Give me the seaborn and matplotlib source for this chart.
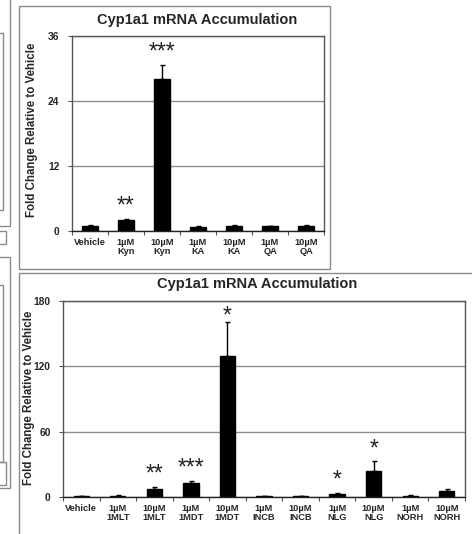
import seaborn as sns
import matplotlib.pyplot as plt
from matplotlib.patches import Rectangle

# --------------------------
# Data
# --------------------------
# top panel: kynurenine and metabolites
kyn_labels = ["Vehicle", "1µM\nKyn", "10µM\nKyn", "1µM\nKA", "10µM\nKA", "1µM\nQA", "10µM\nQA"]
kyn_fold = [0.95, 2.1, 28.1, 0.75, 0.95, 0.85, 0.85]
kyn_err = [0.15, 0.15, 2.6, 0.1, 0.2, 0.1, 0.2]
kyn_stars = ["", "**", "***", "", "", "", ""]
kyn_ticks = [0, 12, 24, 36]

# bottom panel: other AHR ligands
lig_labels = ["Vehicle", "1µM\n1MLT", "10µM\n1MLT", "1µM\n1MDT", "10µM\n1MDT", "1µM\nINCB",
              "10µM\nINCB", "1µM\nNLG", "10µM\nNLG", "1µM\nNORH", "10µM\nNORH"]
lig_fold = [1.0, 1.2, 7.5, 13.3, 129.8, 1.0, 1.0, 2.8, 24.2, 1.0, 5.5]
lig_err = [0.3, 0.3, 1.5, 1.2, 31.0, 0.3, 0.3, 0.8, 8.6, 0.4, 2.2]
lig_stars = ["", "", "**", "***", "*", "", "", "*", "*", "", ""]
lig_ticks = [0, 60, 120, 180]

title = "Cyp1a1 mRNA Accumulation"
ylabel = "Fold Change Relative to Vehicle"

# --------------------------
# Style
# --------------------------
sns.set_style("white")
plt.rcParams["font.family"] = ["Liberation Sans", "DejaVu Sans"]
plt.rcParams["font.weight"] = "bold"

W, H = 472, 534
fig = plt.figure(figsize=(W / 100, H / 100), dpi=100)


def box(x0, y0, x1, y1, color="#8a8a8a", lw=1.0):
    # rectangle given in pixel coords (origin top-left)
    fig.add_artist(Rectangle((x0 / W, 1 - y1 / H), (x1 - x0) / W, (y1 - y0) / H,
                             transform=fig.transFigure, fill=False,
                             edgecolor=color, lw=lw, clip_on=False))


def panel(rect_px, labels, fold, err, stars, ticks):
    x0, y0, x1, y1 = rect_px
    ax = fig.add_axes([x0 / W, 1 - y1 / H, (x1 - x0) / W, (y1 - y0) / H])
    sns.barplot(x=labels, y=fold, color="black", saturation=1, width=0.42,
                edgecolor="black", ax=ax)
    n = len(labels)
    ax.errorbar(range(n), fold, yerr=[[0] * n, err], fmt="none", ecolor="black",
                elinewidth=1.0, capsize=1.8, capthick=1.0)
    for i, s in enumerate(stars):
        if s:
            # keep the stars inside the plot frame
            y = min(fold[i] + err[i], 0.86 * ticks[-1])
            ax.annotate(s, (i, y), xytext=(0, 4.5),
                        textcoords="offset points", ha="center", va="baseline",
                        fontsize=16.5, fontweight="normal", color="#222222")
    ax.set_xlim(-0.5, n - 0.5)
    ax.set_ylim(ticks[0], ticks[-1])
    ax.set_yticks(ticks)
    ax.set_xticks([i - 0.5 for i in range(n + 1)], minor=True)
    ax.tick_params(axis="x", which="major", length=0, pad=5, labelsize=6.7)
    ax.tick_params(axis="x", which="minor", length=3, width=0.8, color="#555555",
                   direction="out", bottom=True)
    ax.tick_params(axis="y", length=3, width=0.8, color="#555555", direction="out",
                   left=True, pad=6, labelsize=7.4)
    for lab in ax.get_xticklabels():
        lab.set_linespacing(1.05)
        lab.set_fontweight("bold")
    for lab in ax.get_yticklabels():
        lab.set_fontweight("bold")
    ax.grid(axis="y", color="#8c8c8c", lw=1.0)
    ax.set_axisbelow(True)
    for side, sp in ax.spines.items():
        sp.set_visible(True)
        sp.set_color("#555555")
        sp.set_linewidth(1.0)
    ax.spines["bottom"].set_color("#222222")
    ax.set_xlabel("")
    ax.set_ylabel("")
    return ax


# panel frames (incl. cropped neighbours at the left edge)
box(19, 6, 330, 269)
box(19, 273, 480, 545)
box(-10, -10, 10, 226)
box(-10, 33, 3, 210)
box(-10, 231, 6, 244)
box(-10, 257, 10, 488)
box(-10, 285, 3, 462)
box(-10, 462, 6, 485)

# --------------------------
# Top panel
# --------------------------
panel((72, 36, 324, 231), kyn_labels, kyn_fold, kyn_err, kyn_stars, kyn_ticks)
fig.text(197 / W, 1 - 20 / H, title, ha="center", va="center", fontsize=10.5,
         fontweight="bold")
fig.text(32 / W, 1 - 130 / H, ylabel, ha="center", va="center", rotation=90,
         fontsize=8.3, fontweight="bold")

# --------------------------
# Bottom panel
# --------------------------
panel((63, 301, 465, 497), lig_labels, lig_fold, lig_err, lig_stars, lig_ticks)
fig.text(257 / W, 1 - 284 / H, title, ha="center", va="center", fontsize=10.5,
         fontweight="bold")
fig.text(29 / W, 1 - 398 / H, ylabel, ha="center", va="center", rotation=90,
         fontsize=8.3, fontweight="bold")

plt.savefig("out.png", dpi=100)
plt.close()
